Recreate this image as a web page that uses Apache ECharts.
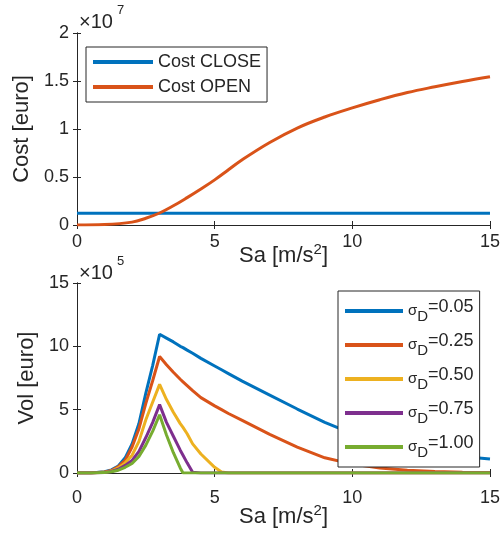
<!DOCTYPE html>
<html>
<head>
<meta charset="utf-8">
<script src="https://cdn.jsdelivr.net/npm/echarts@6/dist/echarts.min.js"></script>
<style>
  html, body { margin: 0; padding: 0; background: #fff; }
  #chart { width: 503px; height: 533px; }
</style>
</head>
<body>
<div id="chart"></div>
<script>
// Sa [m/s^2] and costs, in units of 1e7 euro
const saCost = [0, 1, 2, 2.5, 3, 3.5, 4, 4.5, 5, 5.5, 6, 7, 8, 9, 10, 11, 12, 13, 14, 15];
const costOpen = [0, 0.005, 0.03, 0.07, 0.125, 0.2, 0.285, 0.375, 0.47, 0.575, 0.68, 0.86, 1.01, 1.125, 1.22, 1.305, 1.38, 1.44, 1.495, 1.545];
const saClose = [0, 15];
const costClose = [0.122, 0.122];

// Sa [m/s^2] and VoI, in units of 1e5 euro, one array per sigma_D
const saVoi = [0, 0.5, 1, 1.25, 1.5, 1.75, 2, 2.25, 2.5, 2.75, 3, 3.25, 3.5, 3.75, 3.85, 4, 4.2, 4.5, 5, 5.25, 5.5, 6, 7, 8, 9, 10, 11, 12, 13, 14, 15];
const voi005 = [0, 0, 0.1, 0.25, 0.55, 1.2, 2.3, 3.9, 6.3, 8.5, 10.95, 10.65, 10.35, 10.0, 9.9, 9.7, 9.45, 9.05, 8.45, 8.15, 7.85, 7.25, 6.15, 5.05, 4.0, 3.1, 2.45, 1.95, 1.6, 1.3, 1.1];
const voi025 = [0, 0, 0.08, 0.2, 0.5, 1.0, 2.05, 3.5, 5.5, 7.3, 9.2, 8.55, 7.95, 7.4, 7.2, 6.9, 6.5, 5.95, 5.3, 5.0, 4.7, 4.15, 3.05, 2.05, 1.2, 0.7, 0.4, 0.22, 0.12, 0.06, 0.03];
const voi050 = [0, 0, 0.05, 0.15, 0.4, 0.8, 1.4, 2.5, 4.2, 5.6, 7.0, 5.8, 4.8, 3.9, 3.6, 3.1, 2.3, 1.5, 0.45, 0.08, 0, 0, 0, 0, 0, 0, 0, 0, 0, 0, 0];
const voi075 = [0, 0, 0.04, 0.12, 0.3, 0.6, 1.0, 1.7, 2.8, 4.0, 5.4, 4.0, 2.9, 1.8, 1.4, 0.8, 0.05, 0, 0, 0, 0, 0, 0, 0, 0, 0, 0, 0, 0, 0, 0];
const voi100 = [0, 0, 0.03, 0.1, 0.22, 0.45, 0.75, 1.3, 2.2, 3.3, 4.6, 3.0, 1.6, 0.4, 0, 0, 0, 0, 0, 0, 0, 0, 0, 0, 0, 0, 0, 0, 0, 0, 0];
const sigmaD = ['0.05', '0.25', '0.50', '0.75', '1.00'];

const FONT = 'Liberation Sans';
const AX = '#262626';
const COLORS = ['#0072BD', '#D95319', '#EDB120', '#7E2F8E', '#77AC30'];

const pairs = (xs, ys) => xs.map((x, i) => [x, ys[i]]);

const saName = '{a|Sa [m/s}{b|2}{a|]}';
const saRich = {
  a: { fontSize: 22, lineHeight: 28, color: AX, fontFamily: FONT },
  b: { fontSize: 15, lineHeight: 15, verticalAlign: 'top', color: AX, fontFamily: FONT },
};

// bottom/left axes carry labels, top/right ones only draw the box and ticks
function xAxes(grid, labelMargin, nameGap) {
  return [
    {
      gridIndex: grid, type: 'value', min: 0, max: 15, interval: 5, position: 'bottom',
      axisLine: { lineStyle: { color: AX, width: 1 } },
      axisTick: { inside: true, length: 4, lineStyle: { color: AX } },
      axisLabel: { margin: labelMargin, fontSize: 18, color: AX, fontFamily: FONT },
      splitLine: { show: false },
      name: saName, nameLocation: 'middle', nameGap: nameGap, nameMoveOverlap: false,
      nameTextStyle: { rich: saRich },
    },
    {
      gridIndex: grid, type: 'value', min: 0, max: 15, interval: 5, position: 'top',
      axisLine: { lineStyle: { color: AX, width: 1 } },
      axisTick: { inside: true, length: 4, lineStyle: { color: AX } },
      axisLabel: { show: false },
      splitLine: { show: false },
    },
  ];
}

function yAxes(grid, max, interval, name, nameGap) {
  return [
    {
      gridIndex: grid, type: 'value', min: 0, max: max, interval: interval, position: 'left',
      axisLine: { show: true, lineStyle: { color: AX, width: 1 } },
      axisTick: { show: true, inside: true, length: 4, lineStyle: { color: AX } },
      axisLabel: { margin: 8, fontSize: 18, color: AX, fontFamily: FONT },
      splitLine: { show: false },
      name: name, nameLocation: 'middle', nameGap: nameGap, nameMoveOverlap: false,
      nameTextStyle: { fontSize: 22, color: AX, fontFamily: FONT },
    },
    {
      gridIndex: grid, type: 'value', min: 0, max: max, interval: interval, position: 'right',
      axisLine: { show: true, lineStyle: { color: AX, width: 1 } },
      axisTick: { show: true, inside: true, length: 4, lineStyle: { color: AX } },
      axisLabel: { show: false },
      splitLine: { show: false },
    },
  ];
}

const lineSeries = (name, data, color, xi, yi, smooth) => ({
  name, type: 'line', data, xAxisIndex: xi, yAxisIndex: yi,
  symbol: 'none', smooth: smooth || false,
  color: color,
  lineStyle: { color: color, width: 3 },
});

const voiSets = [voi005, voi025, voi050, voi075, voi100];
const sigmaNames = sigmaD.map(s => 'σD=' + s);

const chart = echarts.init(document.getElementById('chart'));
chart.setOption({
  animation: false,
  backgroundColor: '#fff',
  textStyle: { fontFamily: FONT },
  grid: [
    { left: 77, top: 33, width: 414, height: 192 },
    { left: 77, top: 283, width: 414, height: 190 },
  ],
  xAxis: [...xAxes(0, 8, 17), ...xAxes(1, 16, 30)],
  yAxis: [...yAxes(0, 2, 0.5, 'Cost [euro]', 44), ...yAxes(1, 15, 5, 'Vol [euro]', 39)],
  legend: [
    {
      data: ['Cost CLOSE', 'Cost OPEN'],
      left: 86, top: 47, orient: 'vertical',
      icon: 'rect', itemWidth: 60, itemHeight: 4, itemGap: 5,
      padding: [5, 6, 5, 7],
      borderColor: AX, borderWidth: 1, backgroundColor: '#fff',
      textStyle: { fontSize: 18, lineHeight: 20, color: AX, fontFamily: FONT },
      selectedMode: false,
    },
    {
      data: sigmaNames,
      left: 338, top: 291, orient: 'vertical',
      icon: 'rect', itemWidth: 58, itemHeight: 4, itemGap: 8,
      padding: [7, 6, 7, 7],
      borderColor: AX, borderWidth: 1, backgroundColor: '#fff',
      selectedMode: false,
      formatter: n => '{s|σ}{d|D}{n|' + n.slice(2) + '}',
      textStyle: {
        color: AX, fontFamily: FONT,
        rich: {
          s: { fontSize: 15, lineHeight: 26, verticalAlign: 'middle', color: AX, fontFamily: FONT },
          d: { fontSize: 15, lineHeight: 15, verticalAlign: 'bottom', color: AX, fontFamily: FONT },
          n: { fontSize: 18, lineHeight: 22, verticalAlign: 'top', color: AX, fontFamily: FONT },
        },
      },
    },
  ],
  graphic: [
    { type: 'text', left: 79, top: 12, style: { text: '×10', fontSize: 20, fontFamily: FONT, fill: AX } },
    { type: 'text', left: 117, top: 4, style: { text: '7', fontSize: 13, fontFamily: FONT, fill: AX } },
    { type: 'text', left: 79, top: 263, style: { text: '×10', fontSize: 20, fontFamily: FONT, fill: AX } },
    { type: 'text', left: 117, top: 255, style: { text: '5', fontSize: 13, fontFamily: FONT, fill: AX } },
  ],
  series: [
    lineSeries('Cost CLOSE', pairs(saClose, costClose), COLORS[0], 0, 0),
    lineSeries('Cost OPEN', pairs(saCost, costOpen), COLORS[1], 0, 0, 0.4),
    ...voiSets.map((v, i) => lineSeries(sigmaNames[i], pairs(saVoi, v), COLORS[i], 2, 2)),
  ],
});
</script>
</body>
</html>
